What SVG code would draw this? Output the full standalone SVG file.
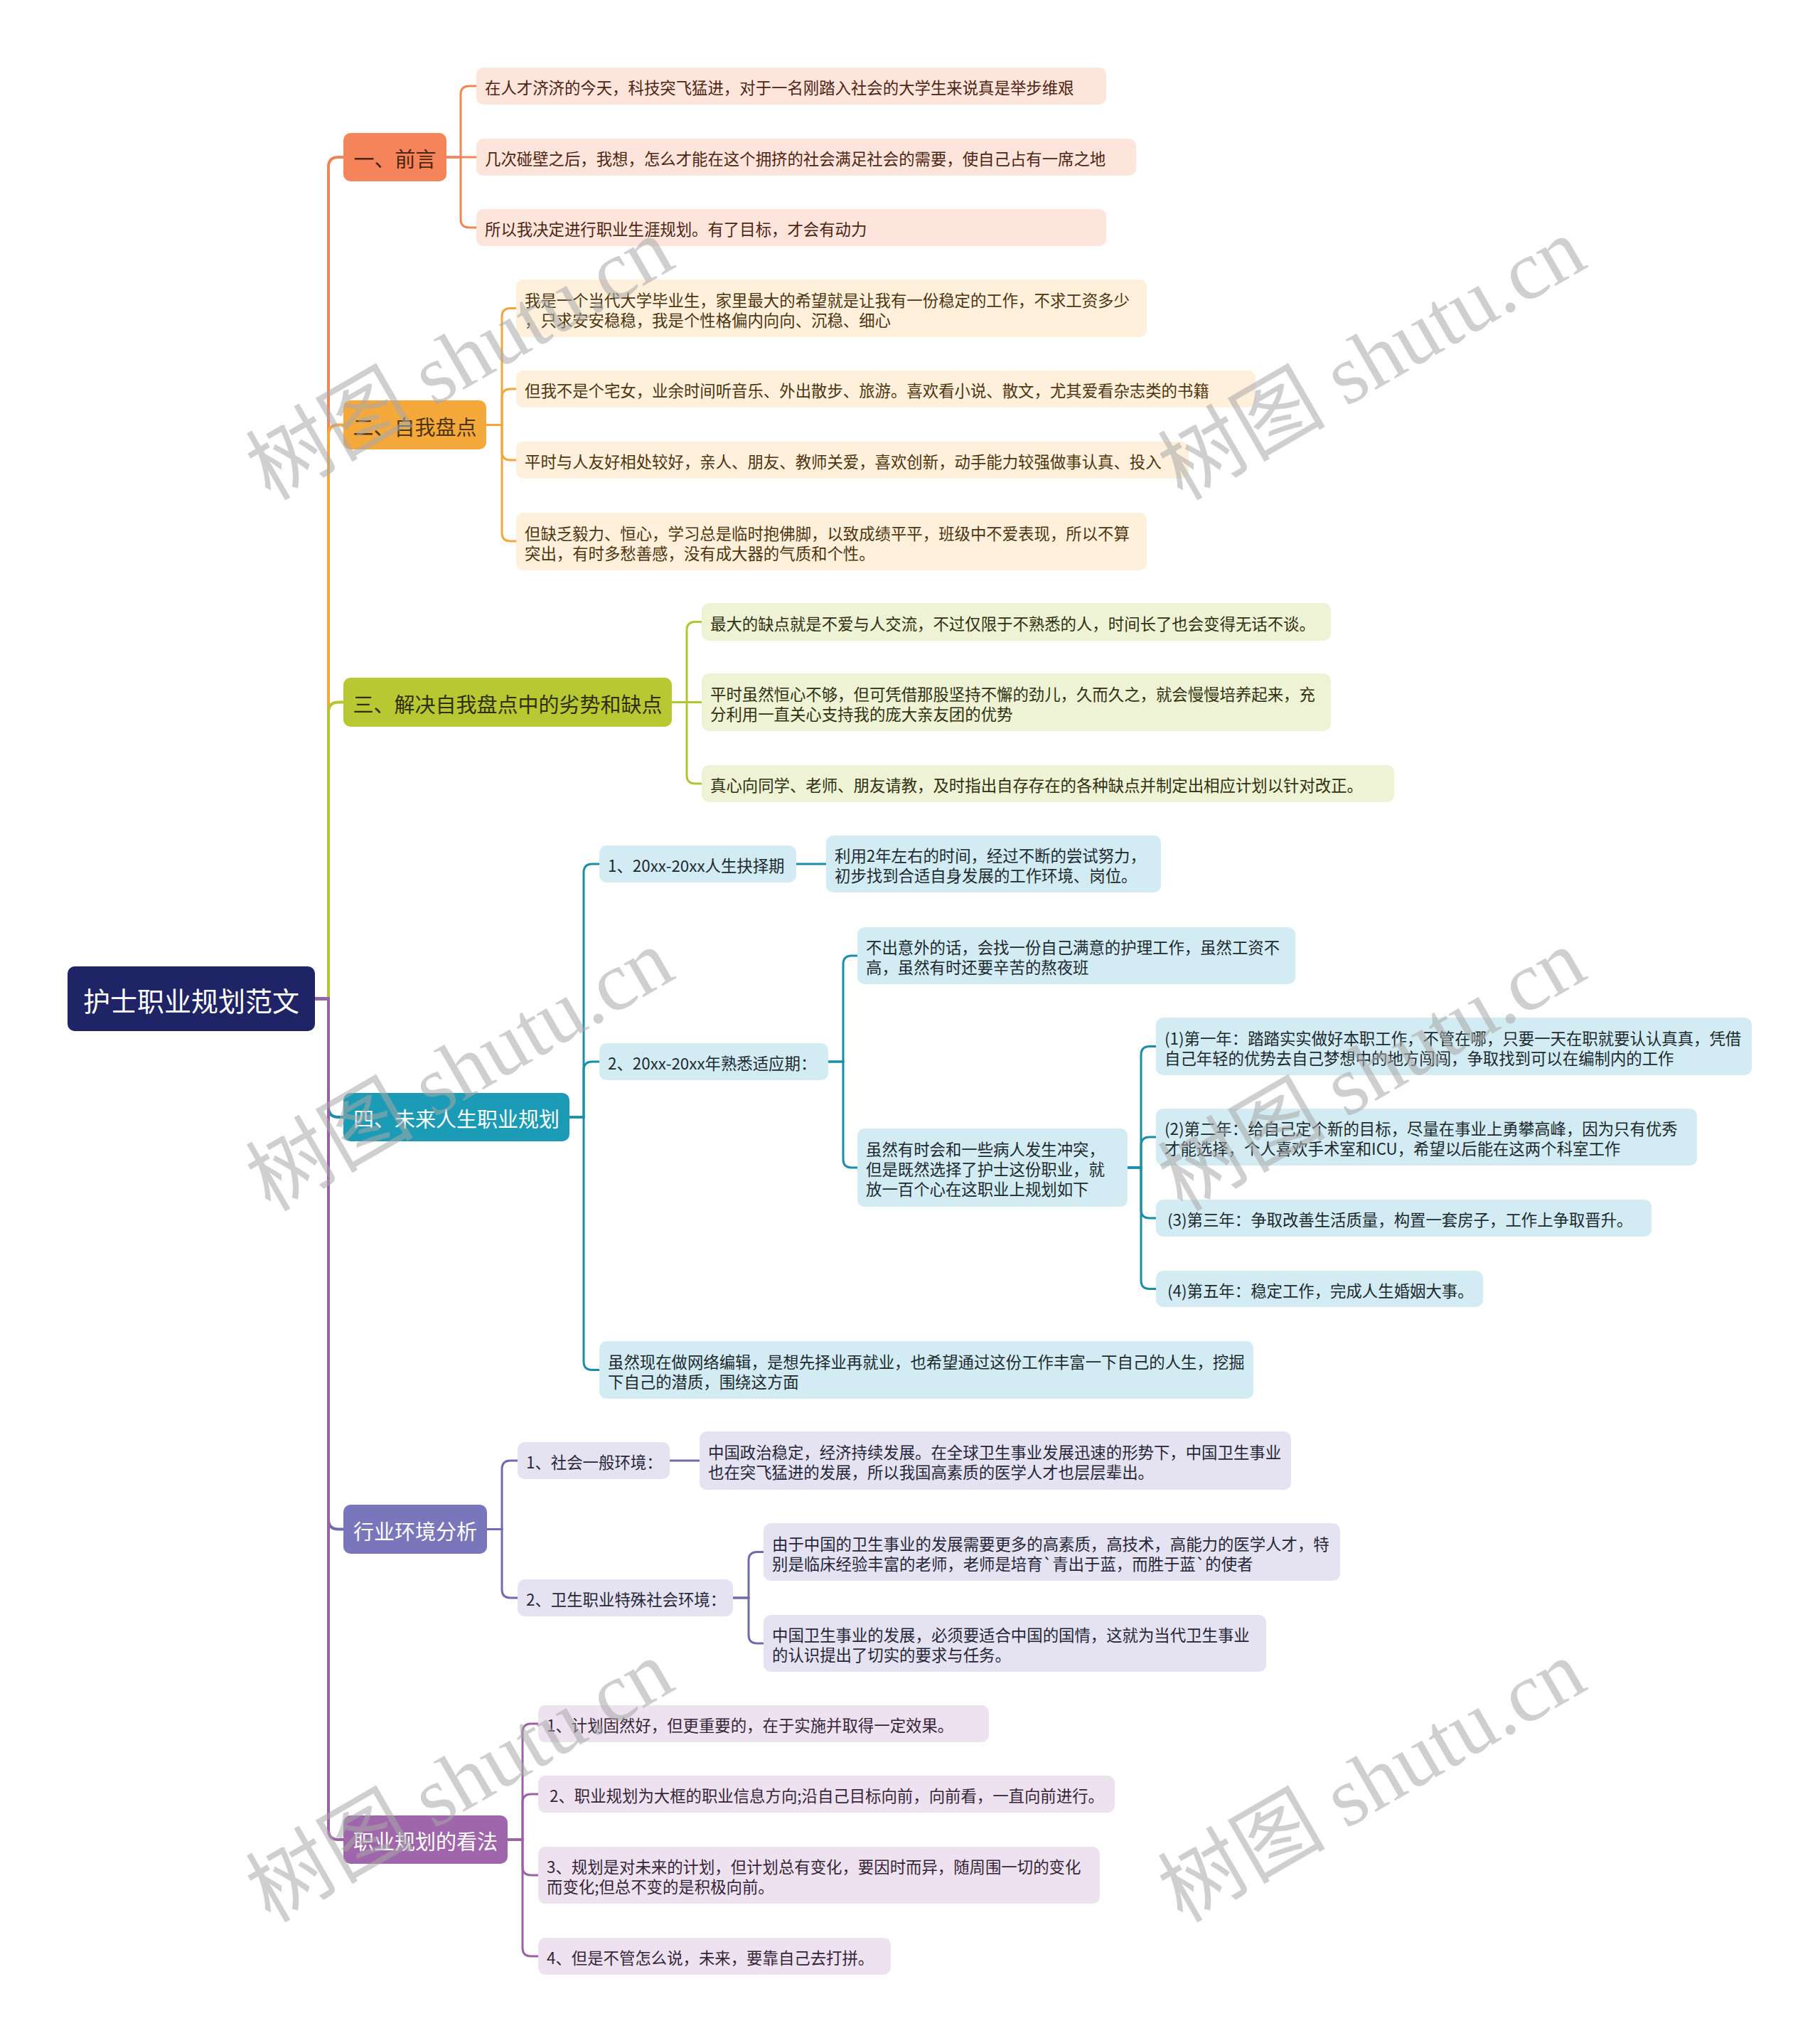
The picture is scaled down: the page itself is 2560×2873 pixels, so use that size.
<svg xmlns="http://www.w3.org/2000/svg" width="2560" height="2873" viewBox="0 0 2560 2873">
<style>
text{font-family:"Noto Sans CJK SC","Liberation Sans",sans-serif;dominant-baseline:central}
.t{font-size:22.4px}
.b{font-size:29px;text-anchor:middle}
.r{font-size:38px;text-anchor:middle;fill:#fff}
.w{fill:#fff}
.c{fill:none;stroke-width:3;stroke-linecap:round}
.tr{fill:none;stroke-width:4}
.k1{fill:#f5845a}.l1{fill:#fde5db}.s1{stroke:#f08558}.x1{fill:#4e2412}
.k2{fill:#f6a93b}.l2{fill:#fef0da}.s2{stroke:#f4a63a}.x2{fill:#4e3510}
.k3{fill:#b7c832}.l3{fill:#eff3d6}.s3{stroke:#b3c530}.x3{fill:#2f3010}
.k4{fill:#1b9bb5}.l4{fill:#d3ebf2}.s4{stroke:#1a8ea8}.x4{fill:#1c2a30}
.k5{fill:#7a76bc}.l5{fill:#e5e3f1}.s5{stroke:#6f6bb0}.x5{fill:#262638}
.k6{fill:#a066ab}.l6{fill:#eee2f0}.s6{stroke:#9b61a6}.x6{fill:#352538}
.wm{font-family:"Liberation Serif","Noto Sans CJK SC",serif;font-size:118px;fill:#a8a8a8;opacity:0.55;dominant-baseline:auto}
</style>
<rect width="2560" height="2873" fill="#fff"/>
<g id="connectors">
<path class="tr s1" d="M443,1404.5 H462 V235 Q462,221 476,221 H483"/>
<path class="tr s2" d="M443,1404.5 H462 V611.5 Q462,597.5 476,597.5 H483"/>
<path class="tr s3" d="M443,1404.5 H462 V1001.5 Q462,987.5 476,987.5 H483"/>
<path class="tr s4" d="M443,1404.5 H462 V1557 Q462,1571 476,1571 H483"/>
<path class="tr s5" d="M443,1404.5 H462 V2136.5 Q462,2150.5 476,2150.5 H483"/>
<path class="tr s6" d="M443,1404.5 H462 V2573 Q462,2587 476,2587 H483"/>
<path class="c s1" d="M628,221 H648 V133 Q648,121 660,121 H670"/>
<path class="c s1" d="M628,221 H670"/>
<path class="c s1" d="M628,221 H648 V308 Q648,320 660,320 H670"/>
<path class="c s2" d="M684,597.5 H706 V445.5 Q706,433.5 718,433.5 H726"/>
<path class="c s2" d="M684,597.5 H706 V559 Q706,547 718,547 H726"/>
<path class="c s2" d="M684,597.5 H706 V635 Q706,647 718,647 H726"/>
<path class="c s2" d="M684,597.5 H706 V749 Q706,761 718,761 H726"/>
<path class="c s3" d="M945,987.5 H966 V886.5 Q966,874.5 978,874.5 H987"/>
<path class="c s3" d="M945,987.5 H987"/>
<path class="c s3" d="M945,987.5 H966 V1090 Q966,1102 978,1102 H987"/>
<path class="c s4" d="M801,1571 H821 V1227 Q821,1215 833,1215 H843"/>
<path class="c s4" d="M801,1571 H821 V1505 Q821,1493 833,1493 H843"/>
<path class="c s4" d="M801,1571 H821 V1914.5 Q821,1926.5 833,1926.5 H843"/>
<path class="c s4" d="M1120,1215 H1162"/>
<path class="c s4" d="M1165,1493 H1186 V1356 Q1186,1344 1198,1344 H1206"/>
<path class="c s4" d="M1165,1493 H1186 V1630 Q1186,1642 1198,1642 H1206"/>
<path class="c s4" d="M1586,1642 H1605 V1483.5 Q1605,1471.5 1617,1471.5 H1626"/>
<path class="c s4" d="M1586,1642 H1605 V1611 Q1605,1599 1617,1599 H1626"/>
<path class="c s4" d="M1586,1642 H1605 V1701 Q1605,1713 1617,1713 H1626"/>
<path class="c s4" d="M1586,1642 H1605 V1800.5 Q1605,1812.5 1617,1812.5 H1626"/>
<path class="c s5" d="M685,2150.5 H706 V2066 Q706,2054 718,2054 H728"/>
<path class="c s5" d="M685,2150.5 H706 V2235 Q706,2247 718,2247 H728"/>
<path class="c s5" d="M942,2054 H984"/>
<path class="c s5" d="M1031,2247 H1053 V2194.5 Q1053,2182.5 1065,2182.5 H1074"/>
<path class="c s5" d="M1031,2247 H1053 V2299 Q1053,2311 1065,2311 H1074"/>
<path class="c s6" d="M714,2587 H735 V2436 Q735,2424 747,2424 H757"/>
<path class="c s6" d="M714,2587 H735 V2535 Q735,2523 747,2523 H757"/>
<path class="c s6" d="M714,2587 H735 V2625 Q735,2637 747,2637 H757"/>
<path class="c s6" d="M714,2587 H735 V2739 Q735,2751 747,2751 H757"/>
</g>
<g id="root"><rect x="95" y="1359" width="348" height="91" rx="10" fill="#1f2466"/><text class="r" x="269" y="1405.5">护士职业规划范文</text></g>

<g id="b1"><rect class="k1" x="483" y="187" width="145" height="68" rx="10"/><text class="b x1" x="555.5" y="222">一、前言</text></g>
<g id="c1-1"><rect class="l1" x="670" y="95" width="886" height="52" rx="10"/><text class="t x1" x="682" y="122">在人才济济的今天，科技突飞猛进，对于一名刚踏入社会的大学生来说真是举步维艰</text></g>
<g id="c1-2"><rect class="l1" x="670" y="195" width="928" height="52" rx="10"/><text class="t x1" x="682" y="222">几次碰壁之后，我想，怎么才能在这个拥挤的社会满足社会的需要，使自己占有一席之地</text></g>
<g id="c1-3"><rect class="l1" x="670" y="294" width="886" height="52" rx="10"/><text class="t x1" x="682" y="321">所以我决定进行职业生涯规划。有了目标，才会有动力</text></g>

<g id="b2"><rect class="k2" x="483" y="563" width="201" height="69" rx="10"/><text class="b x2" x="583.5" y="598.5">二、自我盘点</text></g>
<g id="c2-1"><rect class="l2" x="726" y="393" width="887" height="81" rx="10"/><text class="t x2" x="738" y="420.5">我是一个当代大学毕业生，家里最大的希望就是让我有一份稳定的工作，不求工资多少</text><text class="t x2" x="738" y="448.5">，只求安安稳稳，我是个性格偏内向向、沉稳、细心</text></g>
<g id="c2-2"><rect class="l2" x="726" y="521" width="1040" height="52" rx="10"/><text class="t x2" x="738" y="548">但我不是个宅女，业余时间听音乐、外出散步、旅游。喜欢看小说、散文，尤其爱看杂志类的书籍</text></g>
<g id="c2-3"><rect class="l2" x="726" y="621" width="946" height="52" rx="10"/><text class="t x2" x="738" y="648">平时与人友好相处较好，亲人、朋友、教师关爱，喜欢创新，动手能力较强做事认真、投入</text></g>
<g id="c2-4"><rect class="l2" x="726" y="721" width="887" height="81" rx="10"/><text class="t x2" x="738" y="748.5">但缺乏毅力、恒心，学习总是临时抱佛脚，以致成绩平平，班级中不爱表现，所以不算</text><text class="t x2" x="738" y="776.5">突出，有时多愁善感，没有成大器的气质和个性。</text></g>

<g id="b3"><rect class="k3" x="483" y="953" width="462" height="69" rx="10"/><text class="b x3" x="714" y="988.5">三、解决自我盘点中的劣势和缺点</text></g>
<g id="c3-1"><rect class="l3" x="987" y="848" width="885" height="53" rx="10"/><text class="t x3" x="999" y="875.5">最大的缺点就是不爱与人交流，不过仅限于不熟悉的人，时间长了也会变得无话不谈。</text></g>
<g id="c3-2"><rect class="l3" x="987" y="947" width="885" height="81" rx="10"/><text class="t x3" x="999" y="974.5">平时虽然恒心不够，但可凭借那股坚持不懈的劲儿，久而久之，就会慢慢培养起来，充</text><text class="t x3" x="999" y="1002.5">分利用一直关心支持我的庞大亲友团的优势</text></g>
<g id="c3-3"><rect class="l3" x="987" y="1076" width="974" height="52" rx="10"/><text class="t x3" x="999" y="1103">真心向同学、老师、朋友请教，及时指出自存存在的各种缺点并制定出相应计划以针对改正。</text></g>

<g id="b4"><rect class="k4" x="483" y="1537" width="318" height="68" rx="10"/><text class="b w" x="642" y="1572">四、未来人生职业规划</text></g>
<g id="d1"><rect class="l4" x="843" y="1189" width="277" height="52" rx="10"/><text class="t x4" x="855" y="1216">1、20xx-20xx人生抉择期</text></g>
<g id="d1-1"><rect class="l4" x="1162" y="1175" width="471" height="80" rx="10"/><text class="t x4" x="1174" y="1202">利用2年左右的时间，经过不断的尝试努力，</text><text class="t x4" x="1174" y="1230">初步找到合适自身发展的工作环境、岗位。</text></g>
<g id="d2"><rect class="l4" x="843" y="1467" width="322" height="52" rx="10"/><text class="t x4" x="855" y="1494">2、20xx-20xx年熟悉适应期：</text></g>
<g id="e1"><rect class="l4" x="1206" y="1304" width="616" height="80" rx="10"/><text class="t x4" x="1218" y="1331">不出意外的话，会找一份自己满意的护理工作，虽然工资不</text><text class="t x4" x="1218" y="1359">高，虽然有时还要辛苦的熬夜班</text></g>
<g id="e2"><rect class="l4" x="1206" y="1587" width="380" height="110" rx="10"/><text class="t x4" x="1218" y="1615">虽然有时会和一些病人发生冲突，</text><text class="t x4" x="1218" y="1643">但是既然选择了护士这份职业，就</text><text class="t x4" x="1218" y="1671">放一百个心在这职业上规划如下</text></g>
<g id="f1"><rect class="l4" x="1626" y="1431" width="838" height="81" rx="10"/><text class="t x4" x="1638" y="1458.5">(1)第一年：踏踏实实做好本职工作，不管在哪，只要一天在职就要认认真真，凭借</text><text class="t x4" x="1638" y="1486.5">自己年轻的优势去自己梦想中的地方闯闯，争取找到可以在编制内的工作</text></g>
<g id="f2"><rect class="l4" x="1626" y="1559" width="761" height="80" rx="10"/><text class="t x4" x="1638" y="1586">(2)第二年：给自己定个新的目标，尽量在事业上勇攀高峰，因为只有优秀</text><text class="t x4" x="1638" y="1614">才能选择，个人喜欢手术室和ICU，希望以后能在这两个科室工作</text></g>
<g id="f3"><rect class="l4" x="1626" y="1687" width="697" height="52" rx="10"/><text class="t x4" x="1642" y="1714">(3)第三年：争取改善生活质量，构置一套房子，工作上争取晋升。</text></g>
<g id="f4"><rect class="l4" x="1626" y="1787" width="460" height="51" rx="10"/><text class="t x4" x="1642" y="1813.5">(4)第五年：稳定工作，完成人生婚姻大事。</text></g>
<g id="d3"><rect class="l4" x="843" y="1886" width="920" height="81" rx="10"/><text class="t x4" x="855" y="1913.5">虽然现在做网络编辑，是想先择业再就业，也希望通过这份工作丰富一下自己的人生，挖掘</text><text class="t x4" x="855" y="1941.5">下自己的潜质，围绕这方面</text></g>

<g id="b5"><rect class="k5" x="483" y="2116" width="202" height="69" rx="10"/><text class="b w" x="584" y="2151.5">行业环境分析</text></g>
<g id="g1"><rect class="l5" x="728" y="2028" width="214" height="52" rx="10"/><text class="t x5" x="740" y="2055">1、社会一般环境：</text></g>
<g id="g1-1"><rect class="l5" x="984" y="2013" width="832" height="82" rx="10"/><text class="t x5" x="996" y="2041">中国政治稳定，经济持续发展。在全球卫生事业发展迅速的形势下，中国卫生事业</text><text class="t x5" x="996" y="2069">也在突飞猛进的发展，所以我国高素质的医学人才也层层辈出。</text></g>
<g id="g2"><rect class="l5" x="728" y="2221" width="303" height="52" rx="10"/><text class="t x5" x="740" y="2248">2、卫生职业特殊社会环境：</text></g>
<g id="g2-1"><rect class="l5" x="1074" y="2142" width="811" height="81" rx="10"/><text class="t x5" x="1086" y="2169.5">由于中国的卫生事业的发展需要更多的高素质，高技术，高能力的医学人才，特</text><text class="t x5" x="1086" y="2197.5">别是临床经验丰富的老师，老师是培育`青出于蓝，而胜于蓝`的使者</text></g>
<g id="g2-2"><rect class="l5" x="1074" y="2271" width="707" height="80" rx="10"/><text class="t x5" x="1086" y="2298">中国卫生事业的发展，必须要适合中国的国情，这就为当代卫生事业</text><text class="t x5" x="1086" y="2326">的认识提出了切实的要求与任务。</text></g>

<g id="b6"><rect class="k6" x="483" y="2553" width="231" height="68" rx="10"/><text class="b w" x="598.5" y="2588">职业规划的看法</text></g>
<g id="h1"><rect class="l6" x="757" y="2398" width="634" height="52" rx="10"/><text class="t x6" x="769" y="2425">1、计划固然好，但更重要的，在于实施并取得一定效果。</text></g>
<g id="h2"><rect class="l6" x="757" y="2497" width="811" height="52" rx="10"/><text class="t x6" x="773" y="2524">2、职业规划为大框的职业信息方向;沿自己目标向前，向前看，一直向前进行。</text></g>
<g id="h3"><rect class="l6" x="757" y="2597" width="790" height="80" rx="10"/><text class="t x6" x="769" y="2624">3、规划是对未来的计划，但计划总有变化，要因时而异，随周围一切的变化</text><text class="t x6" x="769" y="2652">而变化;但总不变的是积极向前。</text></g>
<g id="h4"><rect class="l6" x="757" y="2725" width="496" height="52" rx="10"/><text class="t x6" x="769" y="2752">4、但是不管怎么说，未来，要靠自己去打拼。</text></g>

<g id="watermarks">
<text class="wm" x="380" y="705" transform="rotate(-30 380 705)">树图 shutu.cn</text>
<text class="wm" x="1663" y="705" transform="rotate(-30 1663 705)">树图 shutu.cn</text>
<text class="wm" x="380" y="1705" transform="rotate(-30 380 1705)">树图 shutu.cn</text>
<text class="wm" x="1663" y="1705" transform="rotate(-30 1663 1705)">树图 shutu.cn</text>
<text class="wm" x="380" y="2705" transform="rotate(-30 380 2705)">树图 shutu.cn</text>
<text class="wm" x="1663" y="2705" transform="rotate(-30 1663 2705)">树图 shutu.cn</text>
</g>
</svg>
